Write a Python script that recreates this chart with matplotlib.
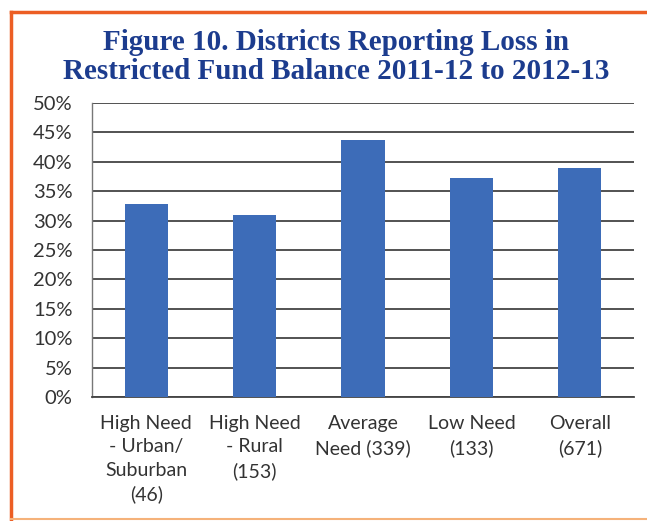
import matplotlib
matplotlib.use("Agg")
import matplotlib.pyplot as plt
from matplotlib.lines import Line2D

categories = ["High Need\n- Urban/\nSuburban\n(46)", "High Need\n- Rural\n(153)",
              "Average\nNeed (339)", "Low Need\n(133)", "Overall\n(671)"]
values = [32.8, 31.0, 43.7, 37.2, 39.0]
yticks = [0, 5, 10, 15, 20, 25, 30, 35, 40, 45, 50]
ytick_labels = [f"{t}%" for t in yticks]
title = "Figure 10. Districts Reporting Loss in\nRestricted Fund Balance 2011-12 to 2012-13"

W, H = 647, 521
fig = plt.figure(figsize=(W/100, H/100), dpi=100)
ax = fig.add_axes([92/W, (H-397)/H, 542/W, 294/H])

x = range(len(categories))
ax.bar(x, values, width=0.4, color="#3D6CB8", zorder=3)
ax.set_xlim(-0.5, len(categories)-0.5)
ax.set_ylim(0, 50)
ax.set_yticks(yticks)
ax.set_yticklabels(ytick_labels, fontsize=14.5, family="Lato", color="#333333")
ax.set_xticks(list(x))
ax.set_xticklabels(categories, fontsize=14, family="Lato", color="#333333",
                   linespacing=1.45)
ax.tick_params(axis="both", length=0)
ax.tick_params(axis="y", pad=14)
ax.tick_params(axis="x", pad=13)
ax.grid(axis="y", color="#444444", linewidth=1.3, zorder=0)
for s in ["top", "right"]:
    ax.spines[s].set_visible(False)
ax.spines["left"].set_color("#777777")
ax.spines["left"].set_linewidth(1.0)
ax.spines["bottom"].set_color("#444444")
ax.spines["bottom"].set_linewidth(1.3)

fig.text(336/W, 1-57/H, title, ha="center", va="center", fontsize=21,
         family="Liberation Serif", weight="bold", color="#1C3C8E", linespacing=1.05)

# orange frame
fig.add_artist(Line2D([11/W, 11/W], [0, 1-12/H], color="#EC5E24", lw=2.5, transform=fig.transFigure))
fig.add_artist(Line2D([11/W, 1], [1-12/H, 1-12/H], color="#EC5E24", lw=2.5, transform=fig.transFigure))
fig.add_artist(Line2D([11/W, 1], [1-519/H, 1-519/H], color="#F5B27A", lw=1.5, transform=fig.transFigure))

fig.savefig("out.png", dpi=100)
